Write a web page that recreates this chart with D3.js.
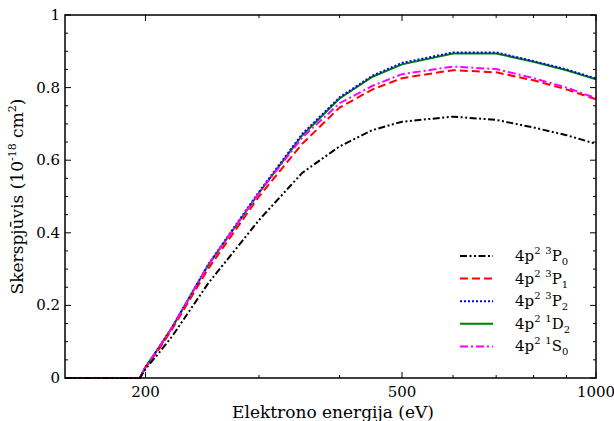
<!DOCTYPE html>
<html><head><meta charset="utf-8">
<script src="https://cdn.jsdelivr.net/npm/d3@7"></script>
<style>body{margin:0;background:#fff}svg{display:block}</style>
</head><body><svg id="c" width="614" height="421" font-family="'DejaVu Serif', 'Liberation Serif', serif"></svg>
<script>
const energies = [150, 196, 200, 210, 220, 250, 300, 350, 400, 450, 500, 600, 700, 800, 900, 1000];
const s3P0 = [0, 0, 0.025, 0.07, 0.115, 0.26, 0.435, 0.565, 0.638, 0.683, 0.706, 0.72, 0.711, 0.69, 0.669, 0.645];
const s3P1 = [0, 0, 0.03, 0.08, 0.135, 0.30, 0.50, 0.645, 0.745, 0.795, 0.826, 0.848, 0.842, 0.82, 0.795, 0.768];
const s3P2 = [0, 0, 0.03, 0.085, 0.14, 0.312, 0.513, 0.672, 0.773, 0.833, 0.868, 0.897, 0.897, 0.873, 0.85, 0.825];
const s1D2 = [0, 0, 0.03, 0.085, 0.14, 0.31, 0.51, 0.668, 0.77, 0.83, 0.864, 0.894, 0.894, 0.871, 0.848, 0.823];
const s1S0 = [0, 0, 0.03, 0.085, 0.14, 0.31, 0.51, 0.662, 0.757, 0.805, 0.837, 0.858, 0.851, 0.826, 0.80, 0.771];
const xTickMajor = [200, 500, 1000];
const xTickMinor = [300, 400, 600, 700, 800, 900];
const yTickMajor = [0, 0.2, 0.4, 0.6, 0.8, 1];
const yTickLabels = ["0", "0.2", "0.4", "0.6", "0.8", "1"];

const series = [
  {key:"P0", vals:s3P0, color:"#000", dash:"7,2.5,2,2.5,2,2.5", mult:"3", L:"P", sub:"0"},
  {key:"P1", vals:s3P1, color:"#ff0000", dash:"8,4", mult:"3", L:"P", sub:"1"},
  {key:"P2", vals:s3P2, color:"#0000ff", dash:"2,2", mult:"3", L:"P", sub:"2"},
  {key:"D2", vals:s1D2, color:"#008000", dash:null, mult:"1", L:"D", sub:"2"},
  {key:"S0", vals:s1S0, color:"#ff00ff", dash:"8,3,2,3", mult:"1", L:"S", sub:"0"}
];

const svg = d3.select("#c");
const L = 65, R = 596, T = 15, B = 378;
const x = d3.scaleLog().domain([150, 1000]).range([L, R]);
const y = d3.scaleLinear().domain([0, 1]).range([B, T]);

const g = svg.append("g");
const line = d3.line().x((d,i)=>x(energies[i])).y(d=>y(d));
const order = ["D2","P2","P1","S0","P0"];
order.forEach(k=>{
  const s = series.find(t=>t.key===k);
  g.append("path").attr("d", line(s.vals)).attr("fill","none")
    .attr("stroke", s.color).attr("stroke-width", 2)
    .attr("stroke-dasharray", s.dash);
});

svg.append("rect").attr("x",L).attr("y",T).attr("width",R-L).attr("height",B-T)
  .attr("fill","none").attr("stroke","#000").attr("stroke-width",1.5);

const ax = svg.append("g").attr("stroke","#000").attr("stroke-width",1);
xTickMajor.forEach(v=>{
  ax.append("line").attr("x1",x(v)).attr("x2",x(v)).attr("y1",B).attr("y2",B-6);
  ax.append("line").attr("x1",x(v)).attr("x2",x(v)).attr("y1",T).attr("y2",T+6);
});
xTickMinor.forEach(v=>{
  ax.append("line").attr("x1",x(v)).attr("x2",x(v)).attr("y1",B).attr("y2",B-3);
  ax.append("line").attr("x1",x(v)).attr("x2",x(v)).attr("y1",T).attr("y2",T+3);
});
xTickMajor.forEach(v=>{
  svg.append("text").attr("x",x(v)).attr("y",B+19).attr("text-anchor","middle")
    .attr("font-size",15).text(v);
});
d3.range(0, 1.0001, 0.05).forEach(v=>{
  const major = Math.abs(Math.round(v*5)-v*5)<1e-6;
  const len = major?6:3;
  ax.append("line").attr("x1",L).attr("x2",L+len).attr("y1",y(v)).attr("y2",y(v));
  ax.append("line").attr("x1",R).attr("x2",R-len).attr("y1",y(v)).attr("y2",y(v));
});
yTickMajor.forEach((v,i)=>{
  svg.append("text").attr("x",L-5).attr("y",y(v)+5).attr("text-anchor","end")
    .attr("font-size",15).text(yTickLabels[i]);
});

svg.append("text").attr("x",333).attr("y",418).attr("text-anchor","middle")
  .attr("font-size",17).text("Elektrono energija (eV)");
const yt = svg.append("text").attr("transform","translate(23,"+((T+B)/2)+") rotate(-90)")
  .attr("text-anchor","middle").attr("font-size",17);
yt.append("tspan").text("Skerspjūvis (10");
yt.append("tspan").attr("font-size",11).attr("dy",-7).text("-18");
yt.append("tspan").attr("dy",7).text(" cm");
yt.append("tspan").attr("font-size",11).attr("dy",-7).text("2");
yt.append("tspan").attr("dy",7).text(")");

const legY0 = 256, legDy = 22.6;
series.forEach((s,i)=>{
  const yy = legY0 + i*legDy;
  svg.append("line").attr("x1",460).attr("x2",493).attr("y1",yy).attr("y2",yy)
    .attr("stroke",s.color).attr("stroke-width",2).attr("stroke-dasharray",s.dash);
  const t = svg.append("text").attr("x",515).attr("y",yy+5).attr("font-size",15);
  t.append("tspan").text("4p");
  t.append("tspan").attr("font-size",10).attr("dy",-7).text("2");
  t.append("tspan").attr("dy",7).text(" ");
  t.append("tspan").attr("font-size",10).attr("dy",-7).text(s.mult);
  t.append("tspan").attr("dy",7).text(s.L);
  t.append("tspan").attr("font-size",10).attr("dy",4).text(s.sub);
});
</script></body></html>
